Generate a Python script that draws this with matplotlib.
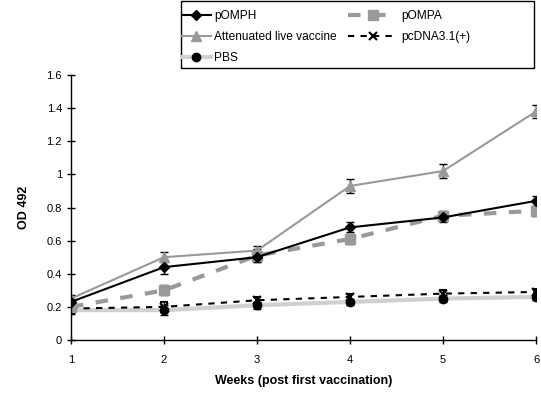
import matplotlib
matplotlib.use("Agg")
import matplotlib.pyplot as plt
from matplotlib.patches import Rectangle

plt.rcParams['font.family'] = ['Liberation Sans', 'DejaVu Sans']

weeks = [1, 2, 3, 4, 5, 6]
pomph = [0.23, 0.44, 0.50, 0.68, 0.74, 0.84]
pomph_err = [0.02, 0.04, 0.03, 0.03, 0.03, 0.03]
pompa = [0.20, 0.30, 0.51, 0.61, 0.75, 0.78]
pompa_err = [0.02, 0.03, 0.04, 0.03, 0.03, 0.03]
atten = [0.25, 0.50, 0.54, 0.93, 1.02, 1.38]
atten_err = [0.02, 0.03, 0.03, 0.04, 0.04, 0.04]
pcdna = [0.19, 0.20, 0.24, 0.26, 0.28, 0.29]
pcdna_err = [0.02, 0.03, 0.02, 0.02, 0.02, 0.02]
pbs = [0.18, 0.18, 0.21, 0.23, 0.25, 0.26]
pbs_err = [0.02, 0.03, 0.02, 0.02, 0.02, 0.02]

W, H = 541, 405
fig = plt.figure(figsize=(W/100, H/100), dpi=100)
ax = fig.add_axes([71/W, 1-340/H, (536-71)/W, (340-75)/H])

ekw = dict(ecolor='black', elinewidth=1, capsize=3, capthick=1)

l_pbs = ax.errorbar(weeks, pbs, yerr=pbs_err, color='#d0d0d0', lw=3, ls='-',
                    marker='o', ms=6, mfc='black', mec='black', label='PBS', **ekw)
l_pcdna = ax.errorbar(weeks, pcdna, yerr=pcdna_err, color='black', lw=1.5, ls=(0, (3, 3)),
                      marker='x', ms=6, mew=1.5, mfc='black', mec='black', label='pcDNA3.1(+)', **ekw)
l_pompa = ax.errorbar(weeks, pompa, yerr=pompa_err, color='#999999', lw=3, ls=(0, (3, 3)),
                      marker='s', ms=7, mfc='#999999', mec='#999999', label='pOMPA', **ekw)
l_atten = ax.errorbar(weeks, atten, yerr=atten_err, color='#999999', lw=1.5, ls='-',
                      marker='^', ms=7, mfc='#999999', mec='#999999', label='Attenuated live vaccine', **ekw)
l_pomph = ax.errorbar(weeks, pomph, yerr=pomph_err, color='black', lw=1.5, ls='-',
                      marker='D', ms=5, mfc='black', mec='black', label='pOMPH', **ekw)

ax.set_xlim(1, 6)
ax.set_ylim(0, 1.6)
ax.set_xticks(weeks)
ax.set_xticklabels([str(w) for w in weeks])
ax.set_yticks([0, 0.2, 0.4, 0.6, 0.8, 1.0, 1.2, 1.4, 1.6])
ax.set_yticklabels(['0', '0.2', '0.4', '0.6', '0.8', '1', '1.2', '1.4', '1.6'])
ax.tick_params(axis='both', direction='inout', length=6, width=1, labelsize=8, colors='black')
ax.tick_params(axis='x', pad=8)
ax.spines['top'].set_visible(False)
ax.spines['right'].set_visible(False)
for s in ['left', 'bottom']:
    ax.spines[s].set_linewidth(1)
    ax.spines[s].set_color('black')
ax.set_ylabel('OD 492', fontsize=9, fontweight='bold', labelpad=12)
ax.set_xlabel('Weeks (post first vaccination)', fontsize=9, fontweight='bold', labelpad=7)

common = dict(loc='upper left', fontsize=8.6, frameon=False, borderpad=0,
              labelspacing=0.75, handletextpad=0.3, borderaxespad=0)
fig.legend([l_pomph[0], l_atten[0], l_pbs[0]],
           ['pOMPH', 'Attenuated live vaccine', 'PBS'],
           bbox_to_anchor=(182/W, 1-10/H), handlelength=2.4, **common)
fig.legend([l_pompa[0], l_pcdna[0]], ['pOMPA', 'pcDNA3.1(+)'],
           bbox_to_anchor=(348/W, 1-10/H), handlelength=4.2, **common)
fig.add_artist(Rectangle((181/W, 1-68/H), (534-181)/W, 67/H, transform=fig.transFigure,
                         fill=False, edgecolor='black', lw=1))

fig.savefig('out.png', dpi=100)
